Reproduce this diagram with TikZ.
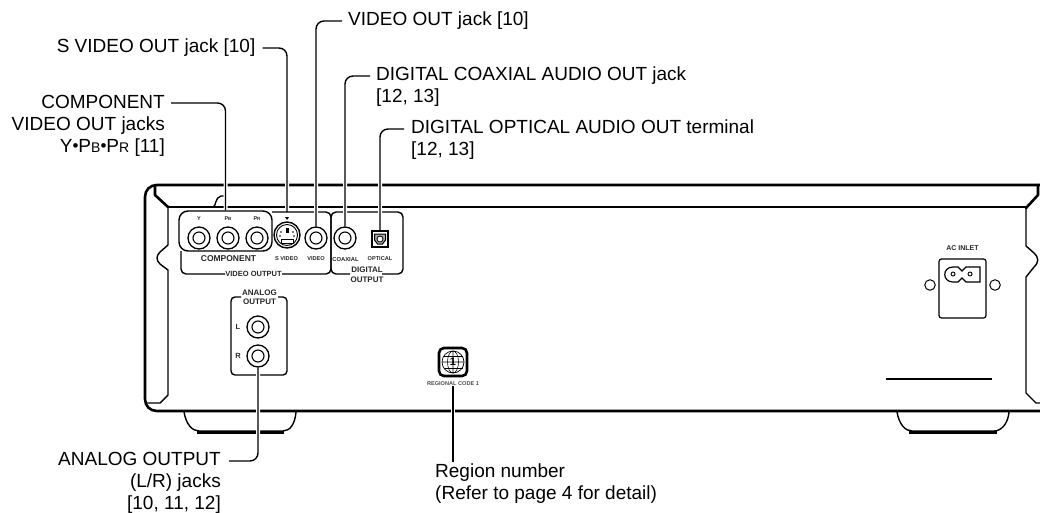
\documentclass[tikz,border=0pt]{standalone}
\usepackage{fontspec}
\setmainfont{Liberation Sans}
\newcommand{\lblfont}{\fontsize{19}{22}\selectfont}
\tikzset{
  x=1pt,y=-1pt,
  outl/.style={line width=2.6pt,line cap=round,line join=round},
  thin line/.style={line width=1.4pt,line join=round},
  leader/.style={line width=1.4pt,rounded corners=8pt,preaction={draw=white,line width=4pt,shorten >=2pt,shorten <=2pt}},
  lbl/.style={inner sep=0pt,font=\lblfont,align=left},
  lblr/.style={inner sep=0pt,font=\lblfont,align=right},
  tiny/.style={inner sep=0pt,font=\fontsize{7}{8}\selectfont\bfseries,align=center,text=black!85},
  jack/.style={circle,draw,line width=1.3pt,minimum size=22pt,inner sep=0pt,path picture={\draw[line width=1.1pt] (path picture bounding box.center) circle (6pt);}},
  hole/.style={circle,draw,line width=1pt,minimum size=10.5pt,inner sep=0pt},
}
\begin{document}
\begin{tikzpicture}
\useasboundingbox (0,0) rectangle (1040,512);
% chassis
\draw[outl] (1040,185) -- (157,185) .. controls (150,185) and (145,190) .. (145,197) -- (145,399) .. controls (145,406) and (150,411) .. (157,411) -- (1040,411);
\draw[outl] (155,185) -- (155,195) -- (168,207);
\draw[outl] (1038,185) -- (1038,195) -- (1026,208);
\draw[thin line] (213,207) .. controls (216,207) and (215,197) .. (221,196) -- (226,196);
\draw[thin line] (168,207) -- (1026,207);
\draw[thin line] (168,207) -- (168,245) -- (160,252) .. controls (156,256) and (156,260) .. (160,264) -- (168,270) -- (168,395) -- (160,403) -- (146,403);
\draw[thin line] (1026,207) -- (1026,246) -- (1034,253) .. controls (1039,258) and (1039,262) .. (1034,267) -- (1026,277) -- (1026,393) -- (1036,403) -- (1040,403);
% feet
\draw[thin line] (184,412) .. controls (186,424) and (192,431) .. (199,431) -- (283,431) .. controls (290,431) and (295,424) .. (296,412);
\draw[line width=3pt] (197,432) -- (284,432);
\draw[thin line] (897,412) .. controls (899,424) and (905,431) .. (912,431) -- (994,431) .. controls (1001,431) and (1008,424) .. (1009,412);
\draw[line width=3pt] (909,432) -- (997,432);
\draw[line width=2pt] (886,379) -- (992,379);
% AC inlet
\node[tiny] (acl) at (962.5,248) {AC INLET};
\draw[line width=1.2pt,rounded corners=2.5pt] (939,259) rectangle (986,318);
\node[hole] (ach1) at (930,285) {};
\node[hole] (ach2) at (995,285) {};
\draw[line width=1.2pt] (980,267) -- (966,267) -- (962,271) -- (958,267) -- (953,267) .. controls (942,267) and (942,282) .. (953,282) -- (958,282) -- (962,278) -- (966,282) -- (980,282) -- cycle;
\draw[line width=.9pt] (953,274) circle (2); \draw[line width=.9pt] (970,274) circle (2);
% panel frames
\draw[thin line,rounded corners=5pt] (181,251) -- (181,274) -- (225,274);
\draw[thin line,rounded corners=5pt] (282,274) -- (331,274) -- (331,212) -- (272,212);
\draw[thin line,rounded corners=5pt] (350,274) -- (331,274) -- (331,212) -- (403,212) -- (403,274) -- (382,274);
\node[draw,line width=1.4pt,rounded corners=9pt,minimum width=93pt,minimum height=40pt,inner sep=0pt] (comp) at (225.5,231) {};
\draw[thin line,rounded corners=4pt] (241,297) -- (231,297) -- (231,375) -- (287,375) -- (287,297) -- (278,297);
% texts on panel
\node[tiny,font=\fontsize{5.5}{6}\selectfont\bfseries] (ty) at (199,219) {Y};
\node[tiny,font=\fontsize{5.5}{6}\selectfont\bfseries] (tb) at (228,219) {P\fontsize{4.5}{5}\selectfont B};
\node[tiny,font=\fontsize{5.5}{6}\selectfont\bfseries] (tr) at (257,219) {P\fontsize{4.5}{5}\selectfont R};
\node[tiny,font=\fontsize{8.5}{9}\selectfont\bfseries] (tc) at (228.5,258.5) {COMPONENT};
\node[tiny,font=\fontsize{5.6}{6}\selectfont\bfseries] (ts) at (286.5,259) {S VIDEO};
\node[tiny,font=\fontsize{5.6}{6}\selectfont\bfseries] (tv) at (316,259) {VIDEO};
\node[tiny,font=\fontsize{5.8}{6}\selectfont\bfseries] (tx) at (345.5,259) {COAXIAL};
\node[tiny,font=\fontsize{5.6}{6}\selectfont\bfseries] (to) at (380,259) {OPTICAL};
\node[tiny,font=\fontsize{7.5}{9}\selectfont\bfseries] (tvo) at (253.5,274) {VIDEO OUTPUT};
\node[tiny,font=\fontsize{8}{9.5}\selectfont\bfseries] (tdo) at (367,274.5) {DIGITAL\\OUTPUT};
\node[tiny,font=\fontsize{8}{8.5}\selectfont\bfseries] (tao) at (259.5,297) {ANALOG\\OUTPUT};
\node[tiny,font=\fontsize{7.5}{8}\selectfont\bfseries] (tl) at (238,327) {L};
\node[tiny,font=\fontsize{7.5}{8}\selectfont\bfseries] (trr) at (238,356) {R};
% jacks
\node[jack] (jy) at (199,238) {};
\node[jack] (jb) at (228,238) {};
\node[jack] (jr) at (257,238) {};
\node[jack] (jv) at (316,238) {};
\node[jack] (jc) at (345,238) {};
\node[jack] (jl) at (258,327) {};
\node[jack] (jrr) at (258,356) {};
% S video
\node[circle,draw,line width=1.4pt,minimum size=26pt,inner sep=0pt] (js) at (287,235) {};
\draw[line width=.9pt] (287,235) circle (10.5);
\fill (285.5,228) rectangle (288.5,233);
\draw[fill=white,line width=.7pt] (281,239) rectangle (293,243);
\foreach \p in {(281,232),(293,232),(280,236),(294,236)} \fill \p circle (.9);
\fill (285,217) -- (289,217) -- (287,220) -- cycle;
% optical
\node[draw,line width=1.3pt,minimum size=16pt,inner sep=0pt] (jo) at (380,239) {};
\draw[line width=1pt,fill=black!35] (374.5,234) -- (385.5,234) -- (385.5,240) -- (382.5,244) -- (377.5,244) -- (374.5,240) -- cycle;
\draw[line width=.8pt,fill=white] (380,239) circle (3);
% region
\node[draw,line width=2.6pt,rounded corners=5pt,minimum size=28pt,inner sep=0pt] (reg) at (453,362) {};
\draw[line width=.7pt] (453,362) circle (11);
\draw[line width=.6pt] (453,362) ellipse (5.5 and 11) (453,351) -- (453,373) (442,362) -- (464,362);
\draw[line width=.6pt] (443.5,356) -- (462.5,356) (443.5,368) -- (462.5,368);
\node[inner sep=0pt,font=\fontsize{11}{11}\selectfont\bfseries] (regn) at (453,362) {1};
\node[tiny,font=\fontsize{5.6}{6}\selectfont\bfseries,text=black!70] (regt) at (453,384) {REGIONAL CODE 1};
% labels
\node[lblr,anchor=east] (lc) at (165,126) {COMPONENT\\VIDEO OUT jacks\\Y{\raisebox{1pt}{\fontsize{17}{17}\selectfont•}}P{\fontsize{14}{14}\selectfont B}{\raisebox{1pt}{\fontsize{17}{17}\selectfont•}}P{\fontsize{14}{14}\selectfont R} [11]};
\coordinate (lcs) at (171,103);
\node[lbl,anchor=east] (ls) at (255.5,48) {S VIDEO OUT jack [10]};
\node[lbl,anchor=west] (lv) at (348,21) {VIDEO OUT jack [10]};
\node[lbl,anchor=west] (ld) at (376,87) {DIGITAL COAXIAL AUDIO OUT jack\\{}[12, 13]};
\coordinate (lds) at (370,76);
\node[lbl,anchor=west] (lp) at (411,140) {DIGITAL OPTICAL AUDIO OUT terminal\\{}[12, 13]};
\coordinate (lps) at (404,129);
\node[lblr,anchor=east] (la) at (221,483) {ANALOG OUTPUT\\(L/R) jacks\\{}[10, 11, 12]};
\coordinate (las) at (229,461);
\node[lbl,anchor=west] (lr) at (435,484) {Region number\\(Refer to page 4 for detail)};
\coordinate (lrs) at (453,462);
% leaders
\draw[leader] (lcs) -| (comp.north);
\draw[leader] (ls.east) ++(7,0) -| (287,212);
\draw[leader] (lv.west) ++(-6,0) -| (jv.north);
\draw[leader] (lds) -| (jc.north);
\draw[leader] (lps) -| (jo.north);
\draw[leader] (las) -| (jrr.south);
\draw[leader] (lrs) -- (regt.south);
\end{tikzpicture}
\end{document}
